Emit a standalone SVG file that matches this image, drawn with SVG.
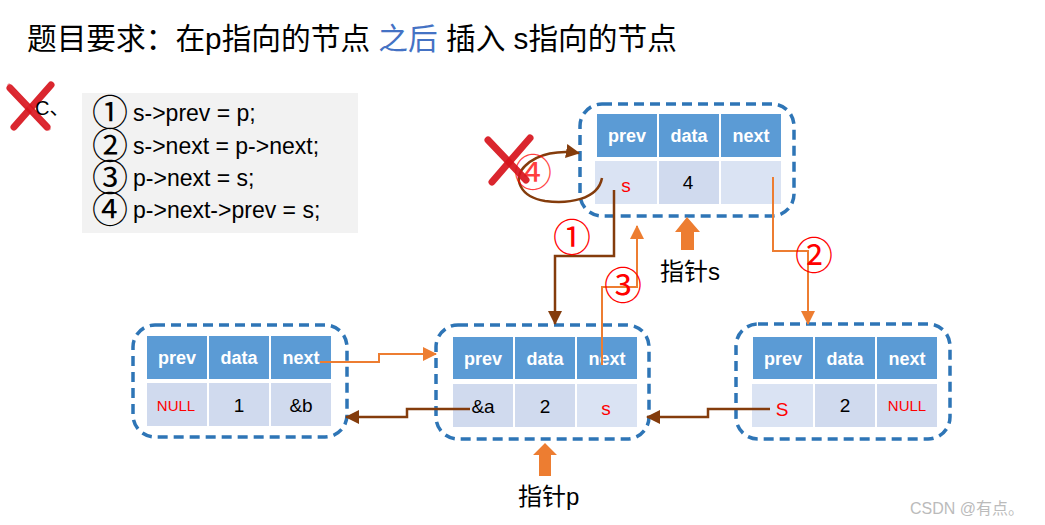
<svg xmlns="http://www.w3.org/2000/svg" width="1045" height="525" viewBox="0 0 1045 525">
<defs>
<style>
.hd{fill:#5B9BD5}
.d1{fill:#D0DAEE}
.d2{fill:#DAE3F3}
.box{fill:none;stroke:#2E75B6;stroke-width:3.5;stroke-dasharray:10 6}
.ht{font-family:"Liberation Sans",Arial,sans-serif;font-weight:bold;font-size:18px;fill:#fff;text-anchor:middle}
.dt{font-family:"Liberation Sans",Arial,sans-serif;font-size:19px;fill:#000;text-anchor:middle}
.red{fill:#FF0000}
.nul{font-size:15px}
.cjk{font-family:"Liberation Sans","Noto Sans CJK SC",sans-serif}
.code{font-family:"Liberation Sans","Noto Sans CJK SC",sans-serif;font-size:23px;fill:#000}
.cn{font-family:"Noto Sans CJK SC",sans-serif;font-size:36px;fill:#000;text-anchor:middle}
.num{font-family:"Noto Sans CJK SC",sans-serif;font-size:38px;fill:#FF0000;text-anchor:middle}
.or{fill:none;stroke:#ED7D31;stroke-width:2}
.br{fill:none;stroke:#843C0C;stroke-width:2.5}
.x{fill:none;stroke:#D7141C;stroke-width:7;stroke-linecap:round;opacity:0.92}
</style>
<marker id="ao" markerUnits="userSpaceOnUse" markerWidth="14" markerHeight="14" refX="13" refY="7" orient="auto"><path d="M0,0 L14,7 L0,14 Z" fill="#ED7D31"/></marker>
<marker id="ab" markerUnits="userSpaceOnUse" markerWidth="14" markerHeight="14" refX="13" refY="7" orient="auto"><path d="M0,0 L14,7 L0,14 Z" fill="#843C0C"/></marker>
</defs>
<rect width="1045" height="525" fill="#fff"/>

<text x="27" y="49" class="cjk" font-size="29.7" fill="#000">题目要求：在p指向的节点 <tspan fill="#4472C4">之后</tspan> 插入 s指向的节点</text>

<g id="code">
<rect x="82" y="93" width="276" height="140" fill="#F2F2F2"/>
<text x="110" y="126" class="cn">①</text>
<text x="110" y="159" class="cn">②</text>
<text x="110" y="191" class="cn">③</text>
<text x="110" y="223" class="cn">④</text>
<text x="133" y="121" class="code">s-&gt;prev = p;</text>
<text x="133" y="154" class="code">s-&gt;next = p-&gt;next;</text>
<text x="133" y="186" class="code">p-&gt;next = s;</text>
<text x="133" y="218" class="code">p-&gt;next-&gt;prev = s;</text>
</g>

<g id="markC">
<path class="x" d="M10,88 L47,127"/>
<path class="x" d="M51,85 L14,127"/>
<path d="M8,84 L50,130" stroke="#E0303A" stroke-width="3" opacity="0.5"/>
<text x="35" y="115" class="cjk" font-size="20" fill="#000">C、</text>
</g>

<g id="node1">
<rect class="box" x="133" y="325" width="214" height="112" rx="22"/>
<rect class="hd" x="147" y="336" width="60" height="43"/>
<rect class="hd" x="209" y="336" width="60" height="43"/>
<rect class="hd" x="271" y="336" width="60" height="43"/>
<rect class="d1" x="147" y="383" width="60" height="43"/>
<rect class="d1" x="209" y="383" width="60" height="43"/>
<rect class="d1" x="271" y="383" width="60" height="43"/>
<text class="ht" x="177" y="364">prev</text>
<text class="ht" x="239" y="364">data</text>
<text class="ht" x="301" y="364">next</text>
<text class="dt red nul" x="176" y="411">NULL</text>
<text class="dt" x="239" y="412">1</text>
<text class="dt" x="301" y="412">&amp;b</text>
</g>

<g id="node2">
<rect class="box" x="436" y="325" width="213" height="114" rx="22"/>
<rect class="hd" x="453" y="337" width="60" height="42"/>
<rect class="hd" x="515" y="337" width="60" height="42"/>
<rect class="hd" x="577" y="337" width="60" height="42"/>
<rect class="d1" x="453" y="384" width="60" height="43"/>
<rect class="d1" x="515" y="384" width="60" height="43"/>
<rect class="d2" x="577" y="384" width="60" height="43"/>
<text class="ht" x="483" y="365">prev</text>
<text class="ht" x="545" y="365">data</text>
<text class="ht" x="607" y="365">next</text>
<text class="dt" x="483" y="413">&amp;a</text>
<text class="dt" x="545" y="413">2</text>
<text class="dt red" x="606" y="415">s</text>
</g>

<g id="node3">
<rect class="box" x="736" y="324" width="214" height="115" rx="22"/>
<rect class="hd" x="753" y="337" width="60" height="42"/>
<rect class="hd" x="815" y="337" width="60" height="42"/>
<rect class="hd" x="877" y="337" width="60" height="42"/>
<rect class="d2" x="752" y="384" width="61" height="43"/>
<rect class="d1" x="815" y="384" width="60" height="43"/>
<rect class="d1" x="877" y="384" width="60" height="43"/>
<text class="ht" x="783" y="365">prev</text>
<text class="ht" x="845" y="365">data</text>
<text class="ht" x="907" y="365">next</text>
<text class="dt red" x="782" y="416">S</text>
<text class="dt" x="845" y="412">2</text>
<text class="dt red nul" x="907" y="411">NULL</text>
</g>

<g id="nodeS">
<rect class="box" x="580" y="104" width="214" height="112" rx="22"/>
<rect class="hd" x="597" y="114" width="60" height="43"/>
<rect class="hd" x="659" y="114" width="60" height="43"/>
<rect class="hd" x="721" y="114" width="60" height="43"/>
<rect class="d2" x="595" y="161" width="62" height="43"/>
<rect class="d1" x="659" y="161" width="60" height="43"/>
<rect class="d2" x="721" y="161" width="60" height="43"/>
<text class="ht" x="627" y="142">prev</text>
<text class="ht" x="689" y="142">data</text>
<text class="ht" x="751" y="142">next</text>
<text class="dt red" x="626" y="192">s</text>
<text class="dt" x="688" y="189">4</text>
</g>

<g id="connectors">
<path class="or" d="M320,362 H379 V354 H436" marker-end="url(#ao)"/>
<path class="br" d="M470,409 H407 V417 H346" marker-end="url(#ab)"/>
<path class="br" d="M770,409 H708 V417 H647" marker-end="url(#ab)"/>
<path class="br" d="M614,190 V256 H555 V324" marker-end="url(#ab)"/>
<path class="or" d="M773,177 V251 H808 V324" marker-end="url(#ao)"/>
<path class="or" d="M602,365 V287 H637 V226" marker-end="url(#ao)"/>
<path class="br" d="M602,178 C598,200 568,204 545,201 C520,197 512,178 525,166 C538,153 560,150 579,153" marker-end="url(#ab)"/>
<text class="num" x="572" y="251">①</text>
<text class="num" x="814" y="269">②</text>
<text class="num" x="623" y="299">③</text>
<text class="num" x="533" y="186" opacity="0.75" font-size="35">④</text>
</g>

<g id="markX4">
<path class="x" d="M488,140 L526,180"/>
<path class="x" d="M530,138 L492,182"/>
</g>

<g id="ptrS">
<path d="M681,250 V232 H675 L687,217 L700,232 H694 V250 Z" fill="#ED7D31"/>
<text x="660" y="280" class="cjk" font-size="24" fill="#000">指针s</text>
</g>
<g id="ptrP">
<path d="M539,476 V455 H533 L545,443 L557,455 H551 V476 Z" fill="#ED7D31"/>
<text x="518" y="505" class="cjk" font-size="24" fill="#000">指针p</text>
</g>

<text x="910" y="514" font-family="Liberation Sans,Noto Sans CJK SC,sans-serif" font-size="16" fill="#BBBBBB">CSDN @有点。</text>
</svg>
